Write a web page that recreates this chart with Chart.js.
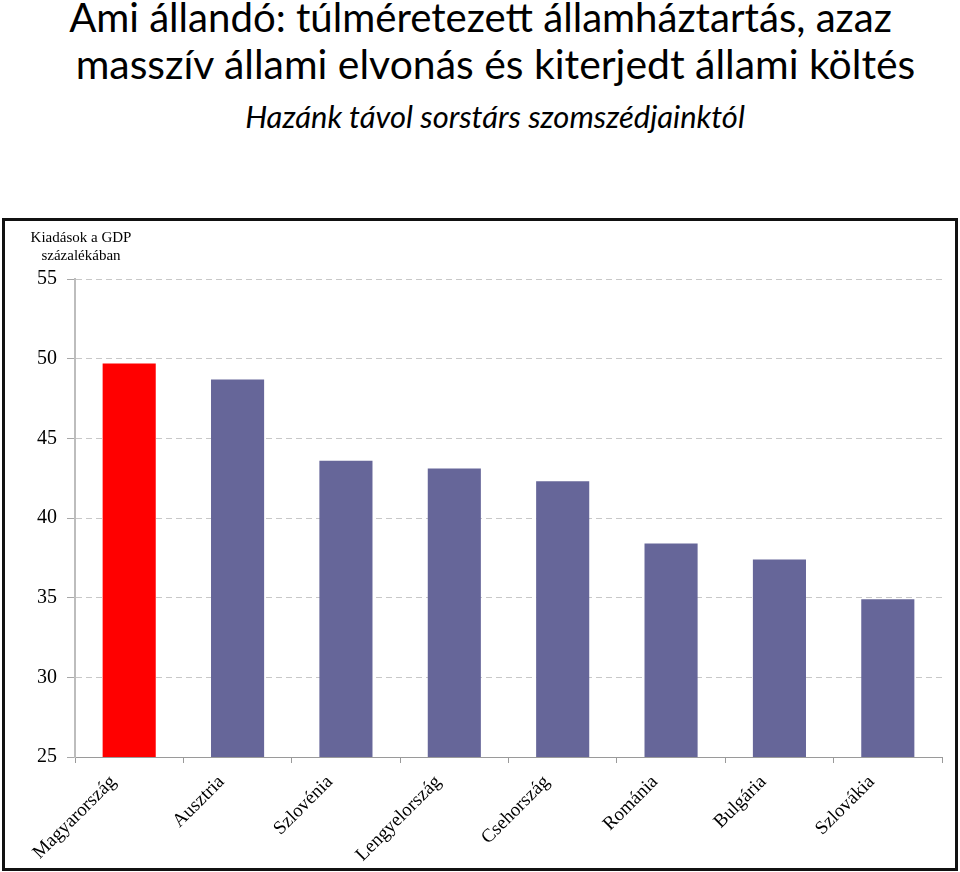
<!DOCTYPE html>
<html><head><meta charset="utf-8">
<script src="https://cdn.jsdelivr.net/npm/chart.js@4"></script>
<style>
body{margin:0;background:#fff;width:960px;height:872px;overflow:hidden;position:relative}
.t{position:absolute;left:0;width:960px;text-align:center;font-family:Lato,"Open Sans",sans-serif;white-space:nowrap;color:#000;line-height:1}
#box{position:absolute;left:2px;top:218px;width:950px;height:647px;border:3px solid #111;background:#fff}
canvas{display:block}
</style></head><body>
<div class="t" id="t1">Ami állandó: túlméretezett államháztartás, azaz</div>
<div class="t" id="t2">masszív állami elvonás és kiterjedt állami költés</div>
<div class="t" id="t3" style="font-style:italic">Hazánk távol sorstárs szomszédjainktól</div>
<div id="box"><canvas id="c" width="950" height="647"></canvas></div>
<script>
const categories = ['Magyarország','Ausztria','Szlovénia','Lengyelország','Csehország','Románia','Bulgária','Szlovákia'];
const values = [49.7, 48.7, 43.6, 43.1, 42.3, 38.4, 37.4, 34.9];
const barColors = ['#FF0000','#666699','#666699','#666699','#666699','#666699','#666699','#666699'];
const yTicks = [25, 30, 35, 40, 45, 50, 55];
const yAxisTitle = ['Kiadások a GDP', 'százalékában'];

// fit title lines
const titleSpecs = [
  {id:'t1', width:823, center:480.5, baseline:33, style:''},
  {id:'t2', width:841, center:495.5, baseline:80, style:''},
  {id:'t3', width:500, center:495, baseline:128, style:'italic '}
];
const mctx = document.createElement('canvas').getContext('2d');
titleSpecs.forEach(s => {
  const el = document.getElementById(s.id);
  mctx.font = s.style + '40px Lato';
  const w = mctx.measureText(el.textContent).width;
  const size = 40 * s.width / w;
  el.style.fontSize = size + 'px';
  el.style.top = (s.baseline - 0.887 * size) + 'px';
  el.style.transform = 'translateX(' + (s.center - 480) + 'px)';
});

const yTitlePlugin = {
  id: 'yTitle',
  afterDraw(chart) {
    const ctx = chart.ctx;
    ctx.save();
    ctx.font = '15px "Liberation Serif"';
    ctx.fillStyle = '#000';
    ctx.textAlign = 'center';
    ctx.fillText(yAxisTitle[0], 76, 21);
    ctx.fillText(yAxisTitle[1], 76, 39);
    ctx.restore();
  }
};

new Chart(document.getElementById('c'), {
  type: 'bar',
  data: {
    labels: categories,
    datasets: [{ data: values, backgroundColor: barColors, borderWidth: 0, barPercentage: 0.49, categoryPercentage: 1 }]
  },
  options: {
    responsive: false,
    animation: false,
    devicePixelRatio: 1,
    layout: { padding: { top: 58, right: 13, left: 0, bottom: 0 } },
    plugins: { legend: { display: false }, tooltip: { enabled: false } },
    scales: {
      x: {
        afterFit(scale) { scale.height = 111; },
        grid: { display: true, drawOnChartArea: false, drawTicks: true, tickLength: 6, offset: true, color: '#9a9a9a' },
        border: { color: '#9a9a9a', width: 1 },
        ticks: { minRotation: 45, maxRotation: 45, autoSkip: false, color: '#000', padding: 8, labelOffset: -16,
          font: { family: '"Liberation Serif"', size: 19 } }
      },
      y: {
        min: 25, max: 55,
        afterFit(scale) { scale.width = 70; },
        afterBuildTicks(scale) { scale.ticks = yTicks.map(v => ({ value: v })); },
        grid: { color: '#c8c8c8', tickLength: 8, tickColor: '#a8a8a8', tickBorderDash: [], lineWidth: 1 },
        border: { color: '#bdbdbd', width: 2, dash: [6, 4] },
        ticks: { color: '#000', padding: 10, font: { family: '"Liberation Serif"', size: 20 } }
      }
    }
  },
  plugins: [yTitlePlugin]
});
</script>
</body></html>
